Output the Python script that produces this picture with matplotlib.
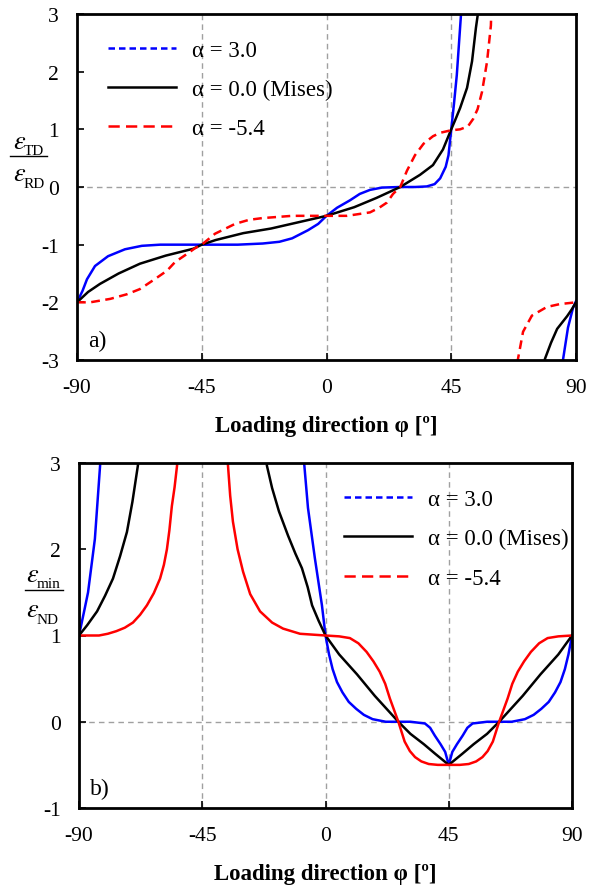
import matplotlib
matplotlib.use("Agg")
from matplotlib import pyplot as plt
from matplotlib.lines import Line2D

plt.rcParams['font.family'] = ['Liberation Serif', 'DejaVu Serif']
plt.rcParams['mathtext.fontset'] = 'stix'
plt.rcParams['axes.unicode_minus'] = False

# ---- panel a) eps_TD / eps_RD ----
a_blue_phi = [-90, -88, -86.4, -83.5, -78.8, -72.7, -66.6, -60, -50, -45, -40, -32, -23, -17, -12.4, -6.7, -3, 0,
              3.8, 8.5, 12, 15.7, 20, 26.6, 32, 36.2, 39, 41, 43, 44, 45, 46, 47, 48.5, 49]
a_blue_val = [-2.0, -1.8, -1.6, -1.37, -1.2, -1.08, -1.02, -1.0, -1.0, -1.0, -1.0, -1.0, -0.98, -0.95, -0.89, -0.75, -0.64, -0.5,
              -0.36, -0.23, -0.12, -0.05, -0.01, 0.0, 0.0, 0.01, 0.05, 0.15, 0.35, 0.55, 1.0, 1.45, 1.94, 2.98, 3.4]
a_blue2_phi = [84.5, 85.3, 87.1, 88.9, 90]
a_blue2_val = [-3.4, -3.0, -2.44, -2.1, -1.98]

a_black_phi = [-90, -86, -81.7, -75, -67.3, -58, -48, -45, -40, -30, -20, -10, 0, 10, 18, 26.6, 33.7, 38.4, 42, 45,
               46.5, 48.2, 50.7, 52.5, 53.9, 54.6, 55]
a_black_val = [-2.0, -1.82, -1.68, -1.5, -1.33, -1.19, -1.07, -1.0, -0.92, -0.8, -0.72, -0.61, -0.5, -0.35, -0.19, 0.0, 0.21, 0.38, 0.65, 1.0,
               1.17, 1.37, 1.72, 2.18, 2.76, 3.0, 3.3]
a_black2_phi = [78.3, 78.8, 81, 83.2, 85, 86.8, 88.5, 90]
a_black2_val = [-3.3, -2.98, -2.7, -2.46, -2.35, -2.24, -2.12, -2.0]

a_red_phi = [-90, -85.3, -78, -72, -67.3, -62, -57.5, -54.6, -50, -47.4, -45, -40.2, -33, -28, -23.3, -12.4, 0,
             7.4, 15.7, 19, 21.8, 24, 26.6, 29, 31.9, 35, 38.4, 41, 44.6, 48.2, 51, 52.9, 54.5, 56.1, 57.9, 59.3, 59.6]
a_red_val = [-2.0, -2.0, -1.94, -1.86, -1.77, -1.6, -1.45, -1.3, -1.15, -1.06, -1.0, -0.81, -0.64, -0.57, -0.54, -0.5, -0.5,
             -0.5, -0.44, -0.36, -0.27, -0.12, 0.0, 0.28, 0.55, 0.75, 0.88, 0.94, 0.98, 1.0, 1.05, 1.18, 1.35, 1.65, 2.17, 2.8, 3.3]
a_red2_phi = [68.8, 69, 70.9, 74.1, 79.5, 84.2, 90]
a_red2_val = [-3.3, -3.0, -2.51, -2.23, -2.08, -2.03, -2.0]

# ---- panel b) eps_min / eps_ND ----
b_blue_phi = [-90, -88, -86.7, -84.2, -82.3, -81.9]
b_blue_val = [1.0, 1.3, 1.5, 2.12, 2.97, 3.3]
b_blue2_phi = [-8.2, -7.8, -6.4, -3.9, -1.3, 0, 1.3, 2.6, 4.2, 6.2, 8.5, 11.2, 14, 17.2, 22, 26.6, 31, 36.3, 38.2, 39.9, 42, 43.7, 45,
               46.3, 48, 50.1, 51.8, 53.7, 59, 63.4, 68, 72.8, 76, 78.8, 81.5, 83.8, 85.8, 87.4, 88.7, 90]
b_blue2_val = [3.3, 3.0, 2.48, 1.9, 1.35, 1.0, 0.78, 0.61, 0.46, 0.34, 0.23, 0.15, 0.08, 0.03, 0.0, 0.0, 0.0, -0.02, -0.07, -0.16, -0.26, -0.35, -0.5,
               -0.35, -0.26, -0.16, -0.07, -0.02, 0.0, 0.0, 0.0, 0.03, 0.08, 0.15, 0.23, 0.34, 0.46, 0.61, 0.78, 1.0]

b_black_phi = [-90, -87, -83.4, -80.5, -77.6, -75, -72.5, -70.5, -68.5, -67.8]
b_black_val = [1.0, 1.12, 1.28, 1.46, 1.66, 1.92, 2.2, 2.55, 2.97, 3.3]
b_black2_phi = [-22, -21.4, -19.5, -17, -13.7, -11, -8.6, -6.5, -4.9, -2.5, 0, 5, 11.5, 18, 26.6, 31, 35.9, 40, 45,
                50, 54.1, 59, 63.4, 72, 78.5, 85, 90]
b_black2_val = [3.3, 2.97, 2.71, 2.44, 2.16, 1.95, 1.78, 1.56, 1.35, 1.17, 1.0, 0.78, 0.55, 0.3, 0.0, -0.14, -0.26, -0.37, -0.5,
                -0.37, -0.26, -0.14, 0.0, 0.3, 0.55, 0.78, 1.0]

b_red_phi = [-90, -82.7, -79.5, -76.4, -73.3, -70.3, -67.7, -65.2, -62.7, -60.4, -59, -57.9, -57, -56.1, -55.1, -54.2, -53.7]
b_red_val = [1.0, 1.0, 1.02, 1.05, 1.09, 1.15, 1.24, 1.35, 1.49, 1.66, 1.82, 2.0, 2.22, 2.5, 2.72, 2.97, 3.3]
b_red2_phi = [-36.2, -35.6, -34.8, -33.8, -32.1, -30.1, -27.5, -23.9, -19.5, -15.5, -9.3, 0, 5, 8.9, 12, 15, 17.5, 19.8, 21.8, 23.5,
              26.6, 28.9, 30.8, 32.7, 35, 37.7, 41, 45,
              49, 52.3, 55, 57.3, 59.2, 61.1, 63.4, 66.5, 68.2, 70.2, 72.5, 75, 78, 81.1, 85, 90]
b_red2_val = [3.3, 2.97, 2.62, 2.32, 2.0, 1.74, 1.48, 1.28, 1.15, 1.08, 1.02, 1.0, 0.99, 0.97, 0.91, 0.81, 0.7, 0.58, 0.44, 0.27,
              0.0, -0.23, -0.34, -0.41, -0.46, -0.49, -0.5, -0.5,
              -0.5, -0.49, -0.46, -0.41, -0.34, -0.23, 0.0, 0.27, 0.44, 0.58, 0.7, 0.81, 0.91, 0.97, 0.99, 1.0]

legend_labels = ['α = 3.0', 'α = 0.0 (Mises)', 'α = -5.4']
xticks = [-90, -45, 0, 45, 90]

W, H = 589, 887
fig = plt.figure(figsize=(W / 100, H / 100), dpi=100)
ax1 = fig.add_axes([77 / W, 1 - 361 / H, 499 / W, 346 / H])
ax2 = fig.add_axes([79 / W, 1 - 809 / H, 493 / W, 345 / H])

lw = 1.8
red_dash = (0, (3.5, 2.2))

ax1.plot(a_blue_phi, a_blue_val, color='#0000ff', lw=lw)
ax1.plot(a_blue2_phi, a_blue2_val, color='#0000ff', lw=lw)
ax1.plot(a_black_phi, a_black_val, color='black', lw=lw)
ax1.plot(a_black2_phi, a_black2_val, color='black', lw=lw)
ax1.plot(a_red_phi, a_red_val, color='#ff0000', lw=lw, ls=red_dash)
ax1.plot(a_red2_phi, a_red2_val, color='#ff0000', lw=lw, ls=red_dash)

ax2.plot(b_blue_phi, b_blue_val, color='#0000ff', lw=lw)
ax2.plot(b_blue2_phi, b_blue2_val, color='#0000ff', lw=lw)
ax2.plot(b_black_phi, b_black_val, color='black', lw=lw)
ax2.plot(b_black2_phi, b_black2_val, color='black', lw=lw)
ax2.plot(b_red_phi, b_red_val, color='#ff0000', lw=lw)
ax2.plot(b_red2_phi, b_red2_val, color='#ff0000', lw=lw)

handles = [Line2D([], [], color='#0000ff', lw=lw, ls=(0, (2.6, 1.6))),
           Line2D([], [], color='black', lw=lw),
           Line2D([], [], color='#ff0000', lw=lw, ls=(0, (4.5, 2.5)))]

for ax, ylim, tag in [(ax1, (-3, 3), 'a)'), (ax2, (-1, 3), 'b)')]:
    ax.set_xlim(-90, 90)
    ax.set_ylim(*ylim)
    ax.set_xticks(xticks)
    ax.set_yticks(range(ylim[0], ylim[1] + 1))
    for v in [-45, 0, 45]:
        ax.axvline(v, color='#a0a0a0', lw=1.0, ls=(0, (4, 3)), zorder=0)
    ax.axhline(0, color='#a0a0a0', lw=1.0, ls=(0, (4, 3)), zorder=0)
    for s in ax.spines.values():
        s.set_linewidth(2.0)
    ax.tick_params(direction='in', length=5, width=1.2, labelsize=15.5)
    ax.tick_params(axis='x', pad=13)
    ax.tick_params(axis='y', pad=13)
    ax.set_xlabel('Loading direction φ [º]', fontsize=16.5, fontweight='bold', labelpad=13)
    ax.text(0.022, 0.025, tag, transform=ax.transAxes, fontsize=17, ha='left', va='bottom')


# stacked y-axis fraction labels, placed in pixel coordinates
def px_text(x, y, s, size):
    fig.text(x / W, 1 - y / H, s, fontsize=size, ha='left', va='baseline')


def fraction(x, y_num, y_bar, y_den, bar_x0, bar_x1, sub_x, num_sub, den_sub):
    px_text(x, y_num, r'$\varepsilon$', 19)
    px_text(sub_x, y_num + 6, num_sub, 11)
    fig.add_artist(Line2D([bar_x0 / W, bar_x1 / W], [1 - y_bar / H, 1 - y_bar / H], color='black', lw=1.0))
    px_text(x, y_den, r'$\varepsilon$', 19)
    px_text(sub_x, y_den + 7, den_sub, 11)


fraction(13, 149, 157, 181, 10, 47, 24, 'TD', 'RD')
fraction(26, 582, 591, 617, 25, 63, 37, 'min', 'ND')

ax1.legend(handles, legend_labels, loc='upper left', bbox_to_anchor=(0.02, 0.985), frameon=False,
           fontsize=16.5, handlelength=3.0, handletextpad=0.7, labelspacing=0.78)
ax2.legend(handles, legend_labels, loc='upper left', bbox_to_anchor=(0.495, 0.985), frameon=False,
           fontsize=16.5, handlelength=3.0, handletextpad=0.7, labelspacing=0.8)

fig.savefig('out.png', dpi=100)
